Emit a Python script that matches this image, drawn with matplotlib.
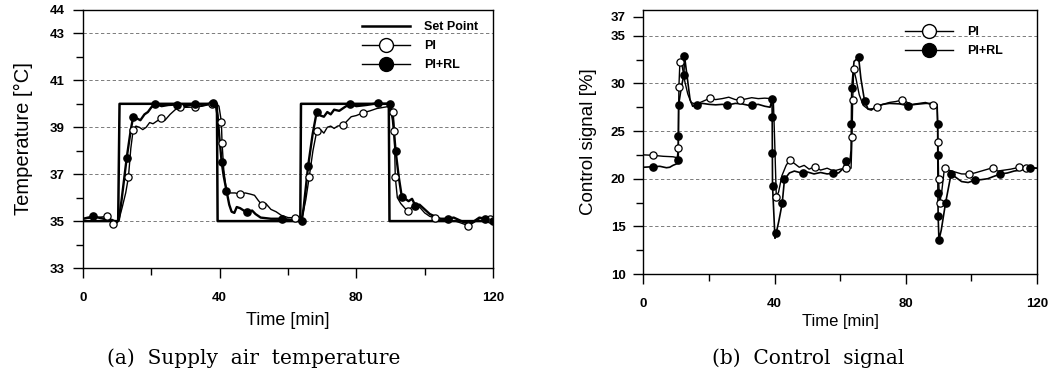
import matplotlib
matplotlib.use("Agg")
import matplotlib.pyplot as plt

plt.rcParams["font.family"] = ["Liberation Sans", "DejaVu Sans"]

# ---- (a) supply air temperature ----
sp_t = [0, 10.3, 10.7, 39.2, 39.4, 63.6, 63.8, 89.5, 89.7, 120]
sp_v = [35, 35, 40, 40, 35, 35, 40, 40, 35, 35]

pi_temp_t = [0, 4, 6.9, 8.0, 8.9, 9.8, 10.6, 11.5, 12.5, 13.3, 14.0, 14.7, 15.5, 16.5,
             17.5, 18.5, 19.5, 20.5, 21.5, 22.8, 24, 25.5, 27, 28.4, 30, 32.8, 35, 37.7,
             39.0, 39.8, 40.5, 40.7, 41.2, 42.0, 43, 44.5, 45.9, 47.5, 49, 50.2, 51.2,
             52.3, 53.5, 55, 56.5, 58, 60, 62.0, 63.3, 64.2, 65.2, 66.2, 67.3, 68.4,
             69.5, 70.5, 71.5, 72.5, 73.5, 74.5, 76.2, 77.5, 78.5, 80, 82, 84, 86, 88,
             90.0, 90.8, 91.1, 91.4, 92.0, 93.0, 94.2, 95.2, 96.2, 97.2, 98.5, 100,
             101.5, 103.0, 105, 107, 109, 111, 112.8, 114.5, 116, 117.5, 119.1, 120]
pi_temp_v = [35.1, 35.15, 35.2, 35.1, 34.86, 34.9, 35.1, 35.6, 36.2, 36.87, 38.1, 38.9,
             39.05, 39.0, 38.9, 39.0, 39.2, 39.15, 39.25, 39.375, 39.3, 39.55, 39.75,
             39.86, 39.85, 39.86, 39.9, 40.0, 40.0, 39.9, 39.24, 38.33, 37.2, 36.2, 36.2,
             36.2, 36.15, 36.2, 36.15, 36.1, 35.9, 35.7, 35.75, 35.5, 35.4, 35.25, 35.15,
             35.14, 35.1, 35.2, 35.9, 36.87, 38.0, 38.82, 38.9, 38.75, 39.0, 39.05, 38.95,
             39.05, 39.1, 39.3, 39.45, 39.5, 39.62, 39.7, 39.8, 39.85, 39.9, 39.65, 38.85,
             36.87, 36.0, 35.75, 35.55, 35.42, 35.6, 35.55, 35.6, 35.35, 35.2, 35.15,
             35.1, 35.05, 35.0, 34.9, 34.8, 34.95, 35.1, 35.15, 35.1, 35.05]
pi_temp_mk_t = [6.9, 8.9, 13.3, 14.7, 22.8, 28.4, 32.8, 37.7, 40.5, 40.7, 45.9, 52.3,
                62.0, 66.2, 68.4, 76.2, 82, 90.8, 91.1, 91.4, 95.2, 103.0, 112.8, 119.1]
pi_temp_mk_v = [35.2, 34.86, 36.87, 38.9, 39.375, 39.86, 39.86, 40.0, 39.24, 38.33,
                36.15, 35.7, 35.14, 36.87, 38.82, 39.1, 39.62, 39.65, 38.85, 36.87,
                35.42, 35.15, 34.8, 35.1]

rl_temp_t = [0, 3, 6, 8.5, 9.8, 10.5, 11.3, 12.8, 14.0, 14.7, 15.5, 16.8, 18.0, 19.0,
             20.0, 21.1, 23, 25, 27.4, 30, 32.8, 35, 37, 38.1, 38.8, 39.4, 39.9, 40.6,
             41.2, 42.0, 42.8, 43.5, 44.3, 45.0, 46.0, 47.9, 49.5, 50.5, 52, 55, 58.1,
             61, 63.5, 64.0, 64.6, 65.9, 67.2, 68.4, 69.5, 70.5, 71.5, 72.5, 73.5, 75,
             76.5, 78.1, 80, 83, 86.4, 88, 89.9, 90.7, 91.5, 92.4, 93.3, 94.3, 95.3,
             96.3, 97.3, 98.5, 100, 101.5, 103, 104.5, 106.7, 108.5, 110, 111.5, 113,
             114.5, 116, 117.6, 120]
rl_temp_v = [35.1, 35.2, 35.1, 35.05, 34.95, 35.05, 35.9, 37.7, 38.9, 39.45, 39.4, 39.3,
             39.55, 39.65, 39.85, 40.0, 39.9, 39.95, 39.97, 39.9, 40.0, 39.95, 40.0,
             40.05, 40.0, 39.5, 38.6, 37.5, 36.9, 36.3, 35.7, 35.4, 35.35, 35.6, 35.55,
             35.37, 35.45, 35.3, 35.15, 35.1, 35.1, 35.05, 35.0, 35.0, 35.6, 37.36, 38.7,
             39.65, 39.5, 39.45, 39.65, 39.55, 39.75, 39.7, 39.85, 40.0, 39.9, 39.95,
             40.03, 40.0, 40.0, 39.3, 37.99, 36.9, 36.04, 35.95, 35.85, 35.95, 35.65,
             35.7, 35.5, 35.3, 35.2, 35.1, 35.1, 35.15, 35.05, 34.95, 34.9, 35.0, 35.15,
             35.1, 35.0]
rl_temp_mk_t = [3.0, 12.8, 14.7, 21.1, 27.4, 32.8, 38.1, 40.6, 42.0, 47.9, 58.1, 64.0,
                65.9, 68.4, 78.1, 86.4, 89.9, 91.5, 93.3, 97.3, 106.7, 117.6, 120]
rl_temp_mk_v = [35.2, 37.7, 39.45, 40.0, 39.97, 40.0, 40.05, 37.5, 36.3, 35.37, 35.1,
                35.0, 37.36, 39.65, 40.0, 40.03, 40.0, 37.99, 36.04, 35.65, 35.1, 35.1,
                35.0]

# ---- (b) control signal ----
pi_sig_t = [0, 3, 6, 9, 10.3, 10.6, 10.8, 11.1, 11.8, 12.6, 13.5, 14.5, 16, 18, 20.2,
            22, 24, 26, 28, 29.4, 31, 33, 35, 37, 39, 39.6, 40.0, 40.5, 41.2, 42.2, 43.5,
            44.6, 46, 47.5, 49, 50.5, 52.2, 54, 56, 58, 60, 61.7, 63.3, 63.6, 63.8, 64.1,
            64.8, 65.8, 67, 68.5, 70, 71.3, 73, 75, 77, 78.9, 80.5, 82, 84, 86, 88.2,
            89.6, 89.8, 90.0, 90.3, 90.9, 91.8, 93, 95, 97, 99.2, 101, 103, 105, 106.5,
            108, 110, 112, 114.6, 116.5, 118, 120]
pi_sig_v = [22.5, 22.45, 22.35, 22.3, 22.2, 23.2, 29.65, 32.2, 31.8, 30.2, 28.9, 28.0,
            27.8, 28.1, 28.44, 28.3, 28.4, 28.55, 28.3, 28.26, 28.35, 28.5, 28.4, 28.45,
            28.4, 28.3, 24.0, 18.1, 18.6, 20.3, 21.4, 21.96, 21.6, 21.2, 21.4, 21.0,
            21.26, 20.9, 21.1, 20.8, 21.0, 21.1, 21.1, 24.4, 28.26, 31.48, 30.5, 28.8,
            27.7, 27.3, 27.35, 27.56, 27.8, 28.0, 28.1, 28.26, 28.0, 27.8, 27.9, 28.0,
            27.7, 27.7, 23.88, 20.0, 17.4, 18.5, 21.16, 20.9, 20.7, 20.5, 20.49, 20.6,
            20.8, 21.0, 21.16, 20.8, 20.9, 21.0, 21.2, 21.15, 21.2, 21.1]
pi_sig_mk_t = [3.0, 10.6, 10.8, 11.1, 20.2, 29.4, 40.5, 44.6, 52.2, 61.7, 63.6, 63.8,
               64.1, 71.3, 78.9, 88.2, 89.8, 90.0, 90.3, 91.8, 99.2, 106.5, 114.6, 116.5]
pi_sig_mk_v = [22.45, 23.2, 29.65, 32.2, 28.44, 28.26, 18.1, 21.96, 21.26, 21.1, 24.4,
               28.26, 31.48, 27.56, 28.26, 27.7, 23.88, 20.0, 17.4, 21.16, 20.49, 21.16,
               21.2, 21.15]

rl_sig_t = [0, 3, 5, 7, 8, 9, 10.4, 10.6, 10.65, 10.7, 11.5, 12.3, 12.5, 13.2, 14.2,
            15.0, 16.2, 18, 20, 22, 24, 25.6, 28, 30, 32, 33.2, 35, 37, 38.6, 39.2,
            39.25, 39.3, 39.35, 40.1, 40.5, 41.3, 42.3, 43.0, 44.5, 46, 48.5, 50, 52, 54,
            56, 57.8, 59.5, 61, 61.7, 63.0, 63.3, 63.4, 63.5, 64.2, 65.6, 66.3, 67.4,
            68.5, 69.5, 71, 73, 75, 78, 80.6, 83, 86, 88.5, 89.5, 89.7, 89.75, 89.8,
            89.85, 90.1, 90.8, 92.1, 93.8, 95, 97, 99, 101.2, 103, 105, 106.5, 108.8,
            111, 113, 115, 117.9, 120]
rl_sig_v = [21.2, 21.26, 21.3, 21.15, 21.2, 21.4, 21.6, 21.96, 24.48, 27.73, 29.5, 30.88,
            32.88, 31.0, 28.3, 27.6, 27.73, 27.9, 27.8, 27.75, 27.8, 27.73, 27.9, 27.85,
            27.7, 27.73, 27.8, 27.6, 27.5, 28.33, 26.5, 22.67, 19.27, 13.75, 14.34, 15.6,
            17.42, 19.94, 20.6, 20.8, 20.57, 20.7, 20.5, 20.65, 20.5, 20.57, 20.6, 21.1,
            21.89, 21.9, 23.0, 25.74, 29.48, 32.3, 32.74, 30.5, 28.19, 27.3, 27.2, 27.6,
            27.8, 27.9, 27.85, 27.67, 27.8, 27.9, 27.9, 27.8, 25.74, 22.49, 18.53, 16.09,
            13.57, 14.6, 17.42, 20.49, 20.2, 19.7, 19.6, 19.86, 19.9, 20.0, 20.2, 20.49,
            20.6, 20.8, 20.9, 21.1, 21.1]
rl_sig_mk_t = [3.0, 10.6, 10.65, 10.7, 12.3, 12.5, 16.2, 25.6, 33.2, 39.2, 39.25, 39.3,
               39.35, 40.5, 42.3, 43.0, 48.5, 57.8, 61.7, 63.4, 63.5, 65.6, 67.4, 80.6,
               89.7, 89.75, 89.8, 89.85, 90.1, 92.1, 93.8, 101.2, 108.8, 117.9]
rl_sig_mk_v = [21.26, 21.96, 24.48, 27.73, 30.88, 32.88, 27.73, 27.73, 27.73, 28.33, 26.5,
               22.67, 19.27, 14.34, 17.42, 19.94, 20.57, 20.57, 21.89, 25.74, 29.48,
               32.74, 28.19, 27.67, 25.74, 22.49, 18.53, 16.09, 13.57, 17.42, 20.49,
               19.86, 20.49, 21.1]

fig = plt.figure(figsize=(10.53, 3.77), dpi=100)
ax1 = fig.add_axes([0.0788, 0.2891, 0.3894, 0.6844])
ax2 = fig.add_axes([0.6111, 0.2732, 0.3737, 0.7003])

grid_kw = dict(color="0.4", lw=0.6, ls=(0, (4, 3)), zorder=0)


def draw(ax, t_pi, v_pi, mt_pi, mv_pi, t_rl, v_rl, mt_rl, mv_rl, lw_rl):
    ax.plot(t_pi, v_pi, color="black", lw=1.0, zorder=3)
    ax.plot(mt_pi, mv_pi, ls="none", marker="o", ms=5.2, mfc="white", mec="black",
            mew=0.9, zorder=4)
    ax.plot(t_rl, v_rl, color="black", lw=lw_rl, zorder=3)
    ax.plot(mt_rl, mv_rl, ls="none", marker="o", ms=5.2, mfc="black", mec="black",
            zorder=5)


ax1.plot(sp_t, sp_v, color="black", lw=1.8, zorder=2)
draw(ax1, pi_temp_t, pi_temp_v, pi_temp_mk_t, pi_temp_mk_v,
     rl_temp_t, rl_temp_v, rl_temp_mk_t, rl_temp_mk_v, 1.7)
draw(ax2, pi_sig_t, pi_sig_v, pi_sig_mk_t, pi_sig_mk_v,
     rl_sig_t, rl_sig_v, rl_sig_mk_t, rl_sig_mk_v, 1.2)

for g in [35, 37, 39, 41, 43]:
    ax1.axhline(g, **grid_kw)
for g in [15, 20, 25, 30, 35]:
    ax2.axhline(g, **grid_kw)

ax1.set_xlim(0, 120)
ax1.set_ylim(33, 44)
ax1.set_yticks([33, 35, 37, 39, 41, 43, 44])
ax1.set_yticks([34, 36, 38, 40, 42], minor=True)

ax2.set_xlim(0, 120)
ax2.set_ylim(10, 37.7)
ax2.set_yticks([10, 15, 20, 25, 30, 35, 37])
ax2.set_yticks([12.5, 17.5, 22.5, 27.5, 32.5], minor=True)

for ax in (ax1, ax2):
    ax.set_xticks([0, 40, 80, 120])
    ax.set_xticks([20, 60, 100], minor=True)
    ax.tick_params(which="major", direction="out", length=7, width=1.0)
    ax.tick_params(axis="x", which="major", pad=10)
    ax.tick_params(axis="y", which="major", pad=6)
    ax.tick_params(which="minor", direction="out", length=5, width=1.0)
    for lab in ax.get_xticklabels() + ax.get_yticklabels():
        lab.set_fontweight("bold")
        lab.set_fontsize(9.5)
    for s in ax.spines.values():
        s.set_linewidth(1.0)

ax1.set_xlabel("Time [min]", fontsize=13, labelpad=6)
ax1.set_ylabel("Temperature [\u00b0C]", fontsize=14.5, labelpad=12)
ax2.set_xlabel("Time [min]", fontsize=12, labelpad=3)
ax2.set_ylabel("Control signal [%]", fontsize=13.5, labelpad=10)

h_sp, = ax1.plot([], [], color="black", lw=1.8)
h_pi, = ax1.plot([], [], color="black", lw=1.0, marker="o", ms=10, mfc="white", mec="black")
h_rl, = ax1.plot([], [], color="black", lw=1.0, marker="o", ms=10, mfc="black", mec="black")
leg_kw = dict(frameon=False, handlelength=3.8, handletextpad=1.1, labelspacing=0.55,
              borderaxespad=0, prop={"weight": "bold", "size": 9})
ax1.legend([h_sp, h_pi, h_rl], ["Set Point", "PI", "PI+RL"], loc="upper right",
           bbox_to_anchor=(0.975, 0.975), **leg_kw)
ax2.legend([h_pi, h_rl], ["PI", "PI+RL"], loc="upper right",
           bbox_to_anchor=(0.925, 0.958), **leg_kw)

fig.text(254 / 1053, 1 - 358 / 377, "(a)  Supply  air  temperature", ha="center",
         va="center", fontsize=14.5, family="DejaVu Serif")
fig.text(808 / 1053, 1 - 358 / 377, "(b)  Control  signal", ha="center",
         va="center", fontsize=14.5, family="DejaVu Serif")

fig.savefig("out.png", dpi=100)
